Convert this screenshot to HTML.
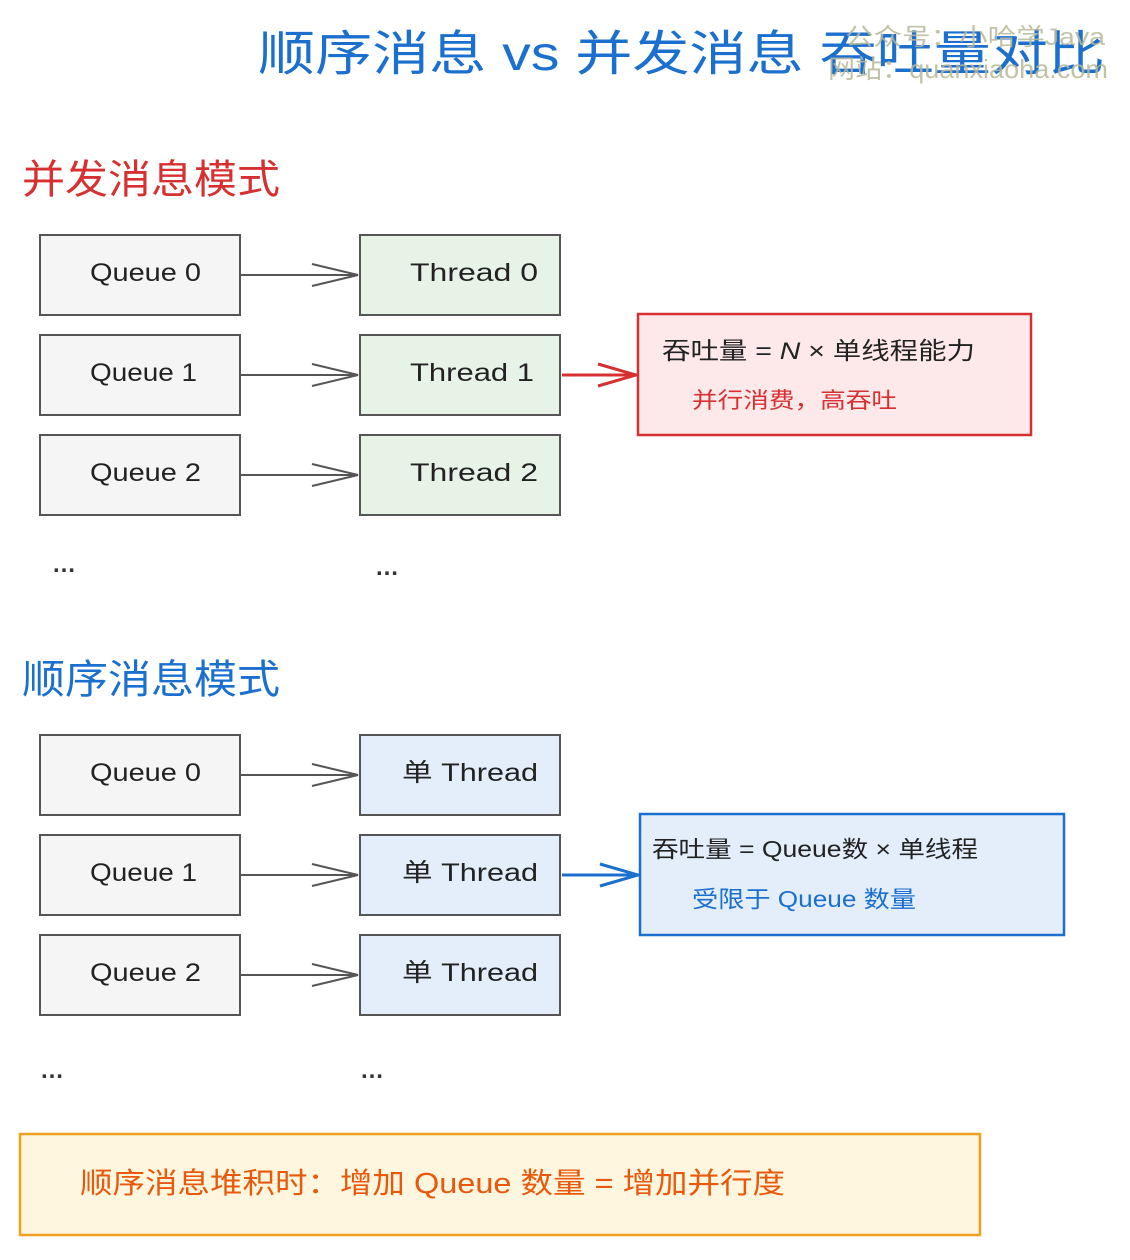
<!DOCTYPE html>
<html><head><meta charset="utf-8"><style>
body{margin:0;background:#fff;}
svg text{font-family:"Liberation Sans","Noto Sans CJK SC",sans-serif;}
</style></head><body>
<svg width="1130" height="1255" xmlns="http://www.w3.org/2000/svg">
<defs>
<marker id="ag" viewBox="0 0 50 26" refX="48" refY="13" markerWidth="50" markerHeight="26" markerUnits="userSpaceOnUse" orient="auto"><path d="M2,2 L48,13 L2,24" fill="none" stroke="#555" stroke-width="2"/></marker>
</defs>
<text x="258" y="70" font-size="48" fill="#1a6fcf" textLength="847" lengthAdjust="spacingAndGlyphs">顺序消息 vs 并发消息 吞吐量对比</text>
<text x="845" y="45" font-size="24" fill="#b8b89a" opacity="0.85" textLength="260" lengthAdjust="spacingAndGlyphs">公众号：小哈学Java</text>
<text x="828" y="78" font-size="26" fill="#b8b89a" opacity="0.85" font-family="Liberation Serif,serif" textLength="280" lengthAdjust="spacingAndGlyphs">网站：quanxiaoha.com</text>

<text x="22" y="193" font-size="40" fill="#d63031" textLength="258" lengthAdjust="spacingAndGlyphs">并发消息模式</text>
<text x="22" y="693" font-size="40" fill="#1a6fcf" textLength="258" lengthAdjust="spacingAndGlyphs">顺序消息模式</text>

<g font-size="25" fill="#222" stroke-width="2">
<g stroke="#555">
<rect x="40" y="235" width="200" height="80" fill="#f5f5f5"/>
<rect x="40" y="335" width="200" height="80" fill="#f5f5f5"/>
<rect x="40" y="435" width="200" height="80" fill="#f5f5f5"/>
<rect x="360" y="235" width="200" height="80" fill="#e8f3e8"/>
<rect x="360" y="335" width="200" height="80" fill="#e8f3e8"/>
<rect x="360" y="435" width="200" height="80" fill="#e8f3e8"/>
<line x1="240" y1="275" x2="358" y2="275" marker-end="url(#ag)"/>
<line x1="240" y1="375" x2="358" y2="375" marker-end="url(#ag)"/>
<line x1="240" y1="475" x2="358" y2="475" marker-end="url(#ag)"/>
<rect x="40" y="735" width="200" height="80" fill="#f5f5f5"/>
<rect x="40" y="835" width="200" height="80" fill="#f5f5f5"/>
<rect x="40" y="935" width="200" height="80" fill="#f5f5f5"/>
<rect x="360" y="735" width="200" height="80" fill="#e3eefa"/>
<rect x="360" y="835" width="200" height="80" fill="#e3eefa"/>
<rect x="360" y="935" width="200" height="80" fill="#e3eefa"/>
<line x1="240" y1="775" x2="358" y2="775" marker-end="url(#ag)"/>
<line x1="240" y1="875" x2="358" y2="875" marker-end="url(#ag)"/>
<line x1="240" y1="975" x2="358" y2="975" marker-end="url(#ag)"/>
</g>
<g lengthAdjust="spacingAndGlyphs">
<text x="90" y="281" textLength="111" lengthAdjust="spacingAndGlyphs">Queue 0</text>
<text x="90" y="381" textLength="107" lengthAdjust="spacingAndGlyphs">Queue 1</text>
<text x="90" y="481" textLength="111" lengthAdjust="spacingAndGlyphs">Queue 2</text>
<text x="410" y="281" textLength="128" lengthAdjust="spacingAndGlyphs">Thread 0</text>
<text x="410" y="381" textLength="124" lengthAdjust="spacingAndGlyphs">Thread 1</text>
<text x="410" y="481" textLength="128" lengthAdjust="spacingAndGlyphs">Thread 2</text>
<text x="90" y="781" textLength="111" lengthAdjust="spacingAndGlyphs">Queue 0</text>
<text x="90" y="881" textLength="107" lengthAdjust="spacingAndGlyphs">Queue 1</text>
<text x="90" y="981" textLength="111" lengthAdjust="spacingAndGlyphs">Queue 2</text>
<text x="402" y="781" textLength="136" lengthAdjust="spacingAndGlyphs">单 Thread</text>
<text x="402" y="881" textLength="136" lengthAdjust="spacingAndGlyphs">单 Thread</text>
<text x="402" y="981" textLength="136" lengthAdjust="spacingAndGlyphs">单 Thread</text>
</g>
</g>
<g font-size="24" fill="#333" font-weight="bold"><text x="52" y="572">…</text><text x="375" y="575">…</text><text x="40" y="1078">…</text><text x="360" y="1078">…</text></g>

<path d="M562,375 L636,375 M598,364 L636,375 L598,386" fill="none" stroke="#d63031" stroke-width="3"/>
<rect x="638" y="314" width="393" height="121" fill="#fde8ea" stroke="#d63031" stroke-width="2.5"/>
<text x="662" y="359" font-size="24" fill="#222" textLength="313" lengthAdjust="spacingAndGlyphs">吞吐量 = <tspan font-style="italic">N</tspan> × 单线程能力</text>
<text x="692" y="408" font-size="22" fill="#d63031" textLength="205" lengthAdjust="spacingAndGlyphs">并行消费，高吞吐</text>

<path d="M562,875 L638,875 M600,864 L638,875 L600,886" fill="none" stroke="#1a6fcf" stroke-width="3"/>
<rect x="640" y="814" width="424" height="121" fill="#e3eefa" stroke="#1a6fcf" stroke-width="2.5"/>
<text x="652" y="857" font-size="23" fill="#222" textLength="326" lengthAdjust="spacingAndGlyphs">吞吐量 = Queue数 × 单线程</text>
<text x="692" y="907" font-size="23" fill="#1a6fcf" textLength="224" lengthAdjust="spacingAndGlyphs">受限于 Queue 数量</text>

<rect x="20" y="1134" width="960" height="101" fill="#fff6e0" stroke="#f0a020" stroke-width="2.5"/>
<text x="80" y="1193" font-size="29" fill="#e8590c" textLength="705" lengthAdjust="spacingAndGlyphs">顺序消息堆积时：增加 Queue 数量 = 增加并行度</text>
</svg>
</body></html>
